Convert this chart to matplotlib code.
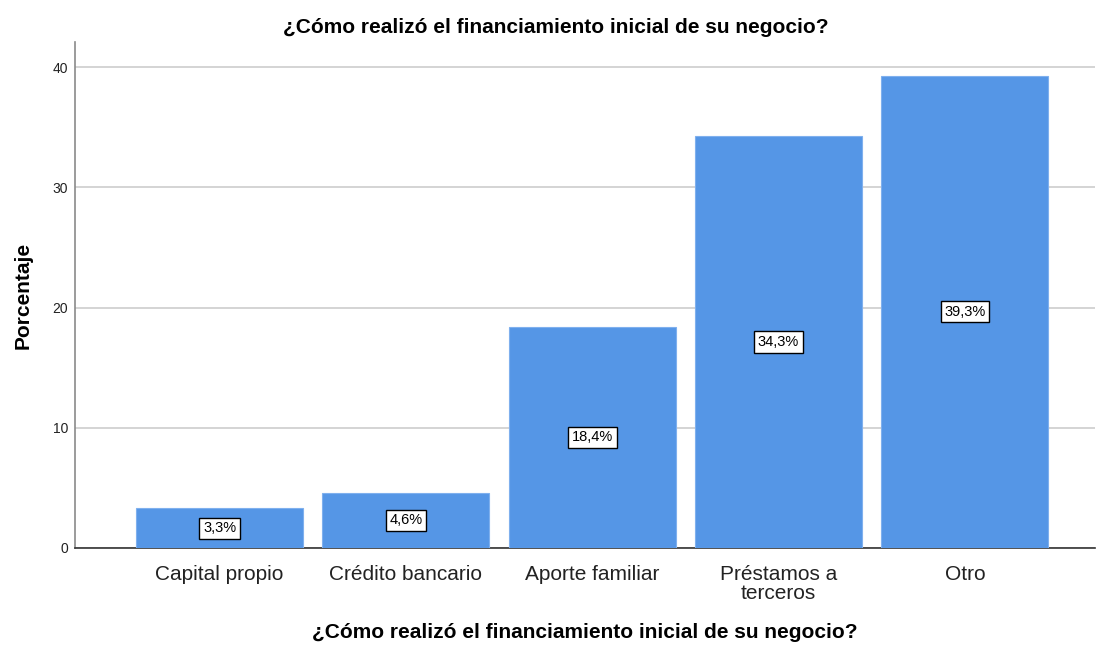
import numpy as np
import matplotlib
matplotlib.use("Agg")
import matplotlib.pyplot as plt

plt.rcParams['font.family'] = ['Liberation Sans', 'DejaVu Sans']

# data
categorias = ['Capital propio', 'Crédito bancario', 'Aporte familiar',
              'Préstamos a\nterceros', 'Otro']
porcentajes = [3.3, 4.6, 18.4, 34.3, 39.3]
etiquetas = ['3,3%', '4,6%', '18,4%', '34,3%', '39,3%']
titulo = '¿Cómo realizó el financiamiento inicial de su negocio?'

fig = plt.figure(figsize=(10.96, 6.45), dpi=100)
ax = fig.add_axes([0.0684, 0.1504, 0.931, 0.7845])

x = np.arange(len(categorias))
ax.bar(x, porcentajes, width=0.896, color='#5596e6', edgecolor='#7fb0ee',
       linewidth=0.8, zorder=3)

for xi, v, t in zip(x, porcentajes, etiquetas):
    ax.text(xi, v / 2, t, ha='center', va='center', fontsize=10.5, zorder=4,
            bbox=dict(boxstyle='square,pad=0.25', fc='white', ec='black', lw=1.0))

ax.set_xlim(-0.776, 4.70)
ax.set_ylim(0, 42.1)
ax.set_yticks([0, 10, 20, 30, 40])
ax.yaxis.grid(True, color='#d4d4d4', linewidth=1.4, zorder=0)
ax.set_axisbelow(True)

ax.set_xticks(x)
ax.set_xticklabels(categorias, fontsize=15, color='#222222', linespacing=1.05)
ax.tick_params(axis='x', length=0, pad=12)
ax.tick_params(axis='y', length=0, pad=5, labelsize=10, labelcolor='#222222')

for s in ['top', 'right']:
    ax.spines[s].set_visible(False)
ax.spines['left'].set_color('#8a8a8a')
ax.spines['left'].set_linewidth(1.2)
ax.spines['bottom'].set_color('#333333')
ax.spines['bottom'].set_linewidth(1.2)

ax.set_ylabel('Porcentaje', fontsize=15, fontweight='bold', labelpad=14)
ax.set_xlabel(titulo, fontsize=15, fontweight='bold', labelpad=14)
fig.text(0.507, 0.958, titulo, ha='center', va='center', fontsize=15,
         fontweight='bold')

fig.savefig('out.png', dpi=100)
